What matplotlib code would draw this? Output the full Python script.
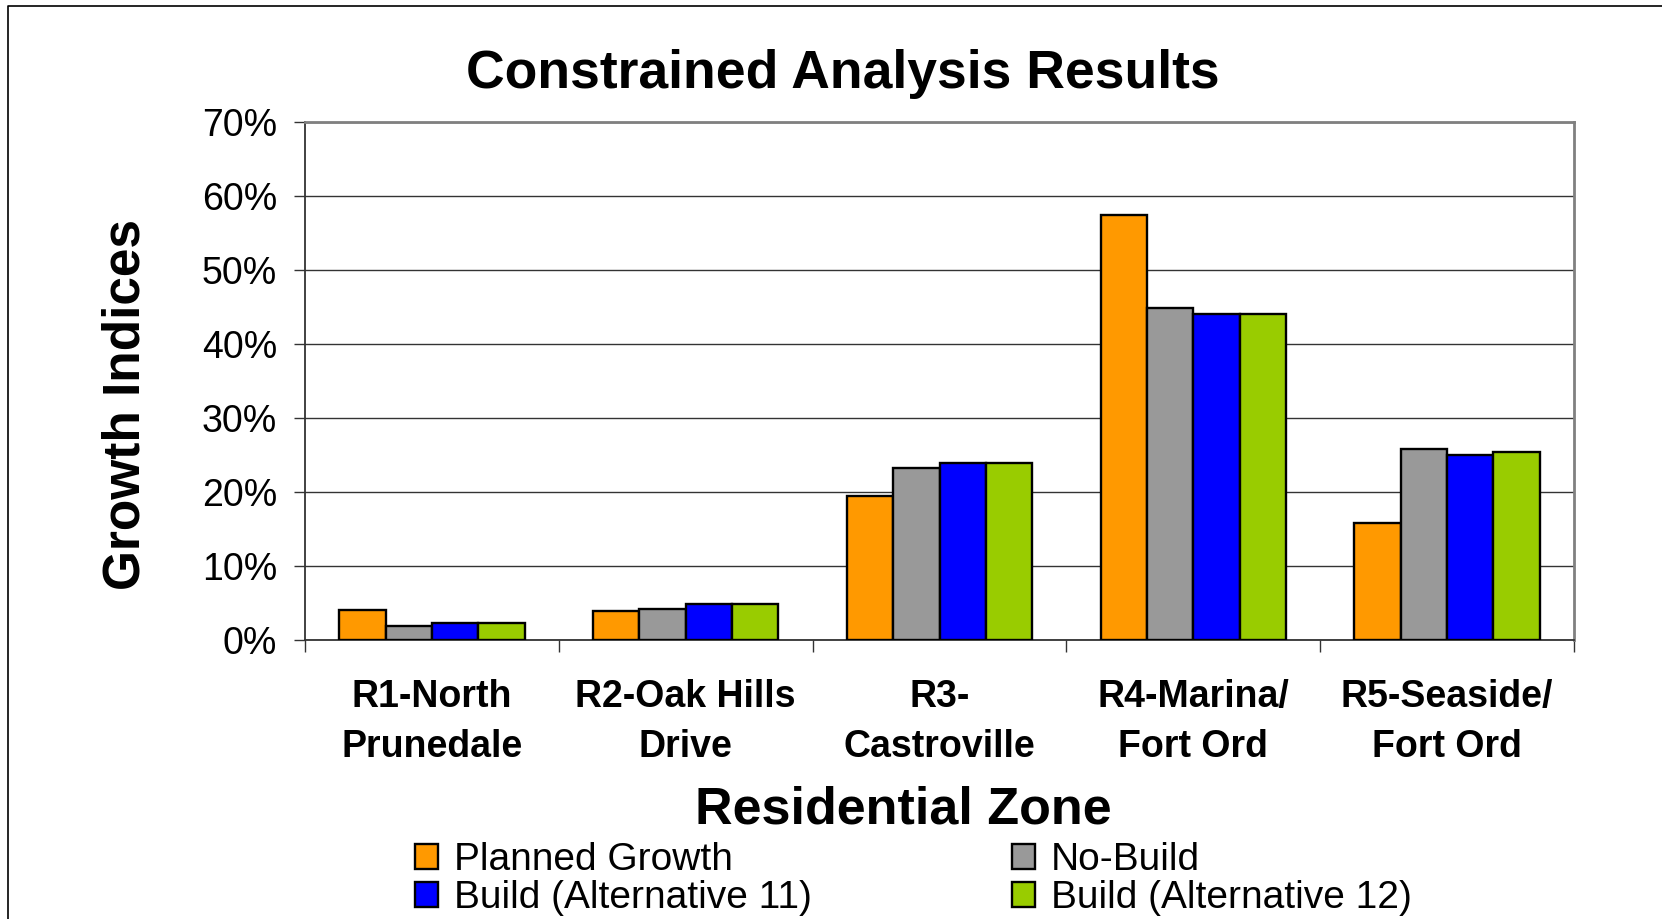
import matplotlib
matplotlib.use("Agg")
import matplotlib.pyplot as plt
import numpy as np
from matplotlib.patches import Patch
from matplotlib.lines import Line2D
from matplotlib.ticker import FixedLocator, PercentFormatter

plt.rcParams["font.family"] = ["Liberation Sans", "DejaVu Sans"]

ZONES = ["R1-North\nPrunedale", "R2-Oak Hills\nDrive", "R3-\nCastroville",
         "R4-Marina/\nFort Ord", "R5-Seaside/\nFort Ord"]
SERIES = ["Planned Growth", "No-Build", "Build (Alternative 11)", "Build (Alternative 12)"]
COLORS = ["#FF9900", "#999999", "#0000FF", "#99CC00"]

planned = [4.1, 3.9, 19.5, 57.5, 15.8]
no_build = [1.9, 4.2, 23.2, 44.9, 25.8]
build_11 = [2.3, 4.9, 23.9, 44.1, 25.0]
build_12 = [2.3, 4.9, 23.9, 44.1, 25.4]
values = [planned, no_build, build_11, build_12]

fig = plt.figure(figsize=(16.62, 9.19), dpi=100)
ax = fig.add_axes([305 / 1662, 1 - 640 / 919, (1574 - 305) / 1662, (640 - 122) / 919])

x = np.arange(len(ZONES))
w = 0.1825
for i, (vals, c) in enumerate(zip(values, COLORS)):
    ax.bar(x + (i - 1.5) * w, vals, width=w, color=c, edgecolor="black",
           linewidth=1.7, zorder=3)

ax.set_xlim(-0.5, len(ZONES) - 0.5)
ax.set_ylim(0, 70)
ax.set_yticks(np.arange(0, 71, 10))
ax.yaxis.set_major_formatter(PercentFormatter(decimals=0))
ax.yaxis.grid(True, color="#333333", linewidth=1.0, zorder=0)

ax.set_xticks(x)
ax.set_xticklabels(ZONES, fontsize=27, fontweight="bold", linespacing=1.5)
ax.xaxis.set_minor_locator(FixedLocator(np.arange(-0.5, len(ZONES), 1.0)))
ax.tick_params(axis="x", which="major", length=0, pad=28)
ax.tick_params(axis="x", which="minor", length=8.5, width=1.0, color="#333333", direction="out")
ax.tick_params(axis="y", length=8, width=1.0, color="#333333", direction="out",
               labelsize=27, pad=12)

for side in ["top", "right"]:
    ax.spines[side].set_color("#808080")
    ax.spines[side].set_linewidth(2.0)
for side in ["left", "bottom"]:
    ax.spines[side].set_color("#333333")
    ax.spines[side].set_linewidth(1.3)

fig.text(843 / 1662, 1 - 74 / 919, "Constrained Analysis Results",
         fontsize=38.5, fontweight="bold", ha="center", va="center")
fig.text(126 / 1662, 1 - 405 / 919, "Growth Indices", fontsize=37,
         fontweight="bold", rotation=90, ha="center", va="center")
fig.text(903 / 1662, 1 - 810 / 919, "Residential Zone", fontsize=37.5,
         fontweight="bold", ha="center", va="center")

# legend is filled column by column, so order the entries to read across rows
order = [0, 2, 1, 3]
handles = [Patch(facecolor=COLORS[i], edgecolor="black", linewidth=1.7) for i in order]
labels = [SERIES[i] for i in order]
fig.legend(handles, labels, loc="upper left",
           bbox_to_anchor=(415 / 1662, 1 - 842 / 919), ncol=2, frameon=False,
           fontsize=28, handlelength=0.6, handleheight=0.6, handletextpad=0.4,
           columnspacing=5.14, labelspacing=0.05, borderpad=0, borderaxespad=0)

# outer frame: only the top and left edges fall inside the canvas
fig.add_artist(Line2D([8 / 1662, 8 / 1662, 1.0], [0.0, 1 - 6 / 919, 1 - 6 / 919],
                      transform=fig.transFigure, color="black", linewidth=1.2))

fig.savefig("out.png", dpi=100)
